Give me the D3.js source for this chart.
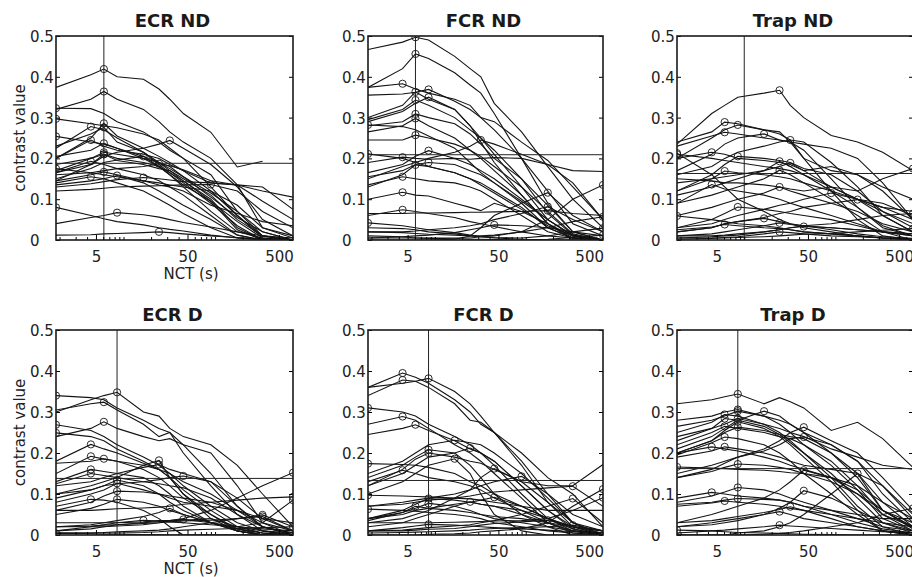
<!DOCTYPE html>
<html>
<head>
<meta charset="utf-8">
<script src="https://cdn.jsdelivr.net/npm/d3@7"></script>
<style>
  body { margin: 0; background: #fff; }
  svg { display: block; font-family: "DejaVu Sans", sans-serif; }
</style>
</head>
<body>
<div id="chart"></div>
<script>
// NCT sample times (s), shared by every curve
var nct = [1.83, 4.4, 6.1, 8.5, 16.5, 24.4, 32, 45, 90, 175, 330, 710];

var titles = ["ECR ND", "FCR ND", "Trap ND", "ECR D", "FCR D", "Trap D"];
var yTicks = [0, 0.1, 0.2, 0.3, 0.4, 0.5];
var xTicks = [5, 50, 500];
var xMinor = [2, 3, 4, 6, 7, 8, 9, 10, 20, 30, 40, 60, 70, 80, 90, 100, 200, 300, 400, 600, 700];

// vertical line (s) and horizontal line (contrast) per panel
var refTime = [6.1, 6.1, 10, 8.5, 8.5, 8.5];
var refContrast = [0.188, 0.209, 0.163, 0.138, 0.133, 0.162];

var ecrND = [
  [0.374,0.405,0.419,0.40,0.394,0.37,0.345,0.31,0.264,0.179,0.193,null],
  [0.32,0.345,0.364,0.345,0.32,0.29,0.265,0.24,0.20,0.135,0.03,0.005],
  [0.323,0.322,0.31,0.29,0.265,0.24,0.22,0.2,0.16,0.07,0.01,0],
  [0.297,0.285,0.28,0.275,0.26,0.245,0.225,0.2,0.13,0.06,0.005,0],
  [0.254,0.24,0.235,0.225,0.2,0.18,0.165,0.145,0.095,0.025,0,0],
  [0.175,0.165,0.16,0.155,0.145,0.14,0.135,0.13,0.12,0.085,0.03,0.01],
  [0.08,0.06,0.052,0.045,0.037,0.03,0.026,0.022,0.012,0.005,0.002,0],
  [0.225,0.278,0.27,0.25,0.215,0.185,0.165,0.14,0.09,0.035,0,0],
  [0.2,0.25,0.286,0.255,0.225,0.205,0.19,0.17,0.12,0.06,0.01,0],
  [0.23,0.26,0.276,0.24,0.215,0.19,0.17,0.145,0.1,0.03,0,0],
  [0.2,0.245,0.23,0.22,0.21,0.2,0.185,0.17,0.14,0.135,0.12,0.105],
  [0.205,0.22,0.237,0.225,0.205,0.18,0.16,0.135,0.095,0.045,0.005,0],
  [0.17,0.2,0.215,0.21,0.2,0.19,0.175,0.155,0.115,0.07,0.02,0],
  [0.145,0.185,0.21,0.195,0.185,0.175,0.17,0.15,0.11,0.05,0.01,0],
  [0.165,0.193,0.185,0.175,0.16,0.145,0.13,0.11,0.06,0.012,0,0],
  [0.14,0.155,0.15,0.14,0.12,0.1,0.085,0.065,0.03,0.005,0,0],
  [0.145,0.16,0.167,0.16,0.145,0.135,0.13,0.12,0.085,0.065,0.045,0.035],
  [0.135,0.145,0.15,0.158,0.14,0.12,0.105,0.085,0.05,0.012,0,0],
  [0.04,0.055,0.06,0.067,0.062,0.056,0.05,0.043,0.032,0.02,0.01,0.005],
  [0.15,0.175,0.19,0.196,0.205,0.19,0.18,0.155,0.105,0.055,0.02,0],
  [0.13,0.138,0.143,0.148,0.153,0.15,0.147,0.143,0.14,0.135,0.095,0.05],
  [0.012,0.013,0.015,0.016,0.018,0.02,0.018,0.015,0.01,0.006,0.003,0],
  [0.16,0.165,0.17,0.175,0.18,0.187,0.182,0.172,0.145,0.135,0.13,0.075],
  [0.165,0.185,0.205,0.215,0.225,0.235,0.244,0.225,0.185,0.13,0.05,0.01],
  [0.12,0.124,0.127,0.13,0.132,0.133,0.134,0.135,0.136,0.12,0.07,0.03],
  [0.185,0.2,0.21,0.2,0.19,0.18,0.16,0.13,0.07,0.02,0.005,0]
];

var fcrND = [
  [0.467,0.485,0.497,0.49,0.45,0.42,0.40,0.335,0.265,0.18,0.10,0.03],
  [0.374,0.42,0.456,0.445,0.41,0.38,0.36,0.31,0.2,0.09,0.02,0],
  [0.374,0.383,0.37,0.36,0.345,0.33,0.3,0.27,0.2,0.12,0.04,0.01],
  [0.3,0.33,0.363,0.345,0.32,0.28,0.25,0.21,0.13,0.05,0.01,0],
  [0.355,0.358,0.362,0.369,0.34,0.32,0.3,0.29,0.24,0.195,0.13,0.05],
  [0.29,0.315,0.335,0.35,0.32,0.28,0.24,0.19,0.11,0.04,0.005,0],
  [0.295,0.32,0.343,0.33,0.3,0.27,0.25,0.22,0.15,0.065,0.012,0],
  [0.28,0.29,0.309,0.3,0.285,0.26,0.235,0.2,0.15,0.085,0.02,0],
  [0.265,0.28,0.298,0.28,0.25,0.22,0.2,0.17,0.11,0.04,0,0],
  [0.282,0.278,0.27,0.255,0.225,0.19,0.165,0.14,0.09,0.03,0.005,0],
  [0.245,0.245,0.257,0.25,0.235,0.22,0.205,0.18,0.13,0.07,0.015,0],
  [0.15,0.18,0.19,0.2,0.215,0.23,0.245,0.235,0.21,0.185,0.14,0.05],
  [0.211,0.2,0.19,0.18,0.165,0.15,0.14,0.12,0.08,0.03,0.005,0],
  [0.165,0.185,0.205,0.219,0.2,0.185,0.17,0.15,0.1,0.05,0.01,0],
  [0.19,0.203,0.2,0.198,0.2,0.198,0.2,0.202,0.2,0.185,0.17,0.168],
  [0.155,0.17,0.185,0.19,0.185,0.17,0.16,0.14,0.095,0.05,0.012,0],
  [0.13,0.16,0.184,0.18,0.165,0.15,0.135,0.115,0.075,0.035,0.01,0],
  [0.135,0.155,0.15,0.145,0.14,0.13,0.12,0.1,0.06,0.02,0.005,0],
  [0.1,0.117,0.11,0.108,0.09,0.08,0.072,0.09,0.07,0.04,0.01,0],
  [0.06,0.074,0.07,0.065,0.055,0.045,0.04,0.033,0.02,0.01,0.005,0],
  [0.042,0.035,0.03,0.025,0.018,0.012,0.008,0.005,0.002,0,0,0],
  [0.005,0.008,0.01,0.012,0.018,0.025,0.03,0.037,0.035,0.03,0.02,0.01],
  [0,0,0,0,0.002,0.01,0.03,0.06,0.09,0.116,0.06,0.02],
  [0.02,0.02,0.022,0.025,0.03,0.035,0.04,0.05,0.065,0.082,0.05,0.02],
  [0.065,0.065,0.066,0.066,0.067,0.068,0.068,0.069,0.07,0.072,0.065,0.06],
  [0.01,0.008,0.005,0.005,0.005,0.005,0.008,0.01,0.02,0.05,0.1,0.135],
  [0.03,0.028,0.025,0.02,0.015,0.01,0.01,0.012,0.02,0.03,0.045,0.057],
  [0.02,0.018,0.016,0.014,0.012,0.01,0.008,0.006,0.005,0.01,0.02,0.029],
  [0.005,0.005,0.005,0.004,0.003,0.002,0.002,0.001,0,0.002,0.006,0.012]
];

var trapND = [
  [0.235,0.31,0.33,0.35,0.36,0.367,0.33,0.3,0.256,0.24,0.215,0.17],
  [0.24,0.265,0.289,0.285,0.27,0.26,0.245,0.2,0.17,0.16,0.12,0.05],
  [0.23,0.255,0.264,0.26,0.25,0.245,0.24,0.22,0.15,0.08,0.03,0.01],
  [0.2,0.25,0.27,0.282,0.27,0.265,0.24,0.2,0.12,0.05,0.01,0],
  [0.17,0.21,0.235,0.25,0.26,0.245,0.24,0.235,0.225,0.2,0.14,0.05],
  [0.16,0.18,0.2,0.215,0.23,0.24,0.245,0.24,0.19,0.13,0.06,0.02],
  [0.213,0.16,0.13,0.1,0.07,0.05,0.04,0.03,0.02,0.01,0.005,0],
  [0.21,0.2,0.195,0.19,0.18,0.175,0.17,0.16,0.13,0.1,0.07,0.04],
  [0.2,0.215,0.21,0.2,0.195,0.19,0.185,0.17,0.18,0.16,0.13,0.1],
  [0.12,0.16,0.185,0.205,0.2,0.195,0.19,0.175,0.16,0.12,0.07,0.03],
  [0.11,0.13,0.14,0.15,0.17,0.193,0.18,0.16,0.12,0.08,0.035,0.01],
  [0.14,0.15,0.155,0.16,0.17,0.18,0.189,0.17,0.13,0.1,0.09,0.06],
  [0.09,0.11,0.12,0.13,0.15,0.171,0.16,0.14,0.1,0.06,0.02,0],
  [0.12,0.15,0.169,0.165,0.16,0.155,0.15,0.14,0.12,0.1,0.08,0.07],
  [0.09,0.136,0.125,0.12,0.11,0.1,0.09,0.08,0.06,0.04,0.02,0.01],
  [0.06,0.08,0.09,0.1,0.115,0.13,0.12,0.11,0.09,0.07,0.04,0.02],
  [0.03,0.04,0.05,0.06,0.075,0.085,0.09,0.1,0.115,0.1,0.08,0.05],
  [0.02,0.03,0.04,0.045,0.055,0.065,0.07,0.08,0.09,0.099,0.06,0.02],
  [0.15,0.145,0.14,0.14,0.135,0.13,0.125,0.12,0.13,0.12,0.15,0.175],
  [0.01,0.01,0.012,0.015,0.02,0.025,0.03,0.035,0.04,0.05,0.06,0.065],
  [0.059,0.05,0.045,0.04,0.035,0.03,0.025,0.02,0.015,0.01,0.005,0],
  [0.03,0.05,0.065,0.081,0.075,0.07,0.065,0.06,0.05,0.035,0.02,0.01],
  [0.02,0.03,0.04,0.045,0.053,0.045,0.04,0.035,0.025,0.015,0.008,0.004],
  [0.025,0.032,0.038,0.035,0.03,0.028,0.025,0.02,0.015,0.01,0.005,0.002],
  [0.01,0.015,0.02,0.025,0.035,0.042,0.038,0.035,0.03,0.025,0.02,0.015],
  [0.005,0.008,0.01,0.012,0.02,0.025,0.03,0.033,0.03,0.025,0.02,0.015],
  [0.002,0.004,0.006,0.008,0.015,0.02,0.018,0.015,0.01,0.008,0.005,0.003],
  [0.005,0.005,0.005,0.006,0.008,0.01,0.012,0.014,0.016,0.02,0.024,0.028]
];

var ecrD = [
  [0.34,0.335,0.33,0.31,0.28,0.26,0.25,0.22,0.15,0.07,0.02,0],
  [0.3,0.33,0.34,0.348,0.3,0.29,0.26,0.24,0.22,0.17,0.1,0.02],
  [0.305,0.32,0.324,0.305,0.27,0.24,0.25,0.2,0.12,0.05,0.01,0],
  [0.269,0.255,0.24,0.22,0.19,0.17,0.15,0.12,0.07,0.03,0.01,0],
  [0.249,0.24,0.23,0.21,0.18,0.16,0.14,0.1,0.04,0.01,0,0],
  [0.24,0.26,0.276,0.26,0.24,0.23,0.235,0.22,0.2,0.12,0.03,0],
  [0.18,0.221,0.21,0.2,0.175,0.16,0.14,0.11,0.06,0.02,0.005,0],
  [0.15,0.192,0.185,0.18,0.16,0.14,0.12,0.09,0.05,0.015,0,0],
  [0.175,0.18,0.186,0.18,0.17,0.16,0.15,0.13,0.1,0.06,0.02,0.005],
  [0.1,0.12,0.13,0.14,0.17,0.182,0.14,0.1,0.05,0.01,0,0],
  [0.12,0.13,0.14,0.15,0.165,0.172,0.16,0.15,0.13,0.07,0.02,0],
  [0.13,0.16,0.155,0.15,0.14,0.12,0.1,0.07,0.03,0.01,0,0],
  [0.125,0.15,0.145,0.14,0.13,0.125,0.12,0.115,0.09,0.05,0.02,0.005],
  [0.1,0.11,0.12,0.125,0.13,0.135,0.14,0.144,0.13,0.09,0.04,0.01],
  [0.09,0.11,0.12,0.134,0.12,0.1,0.08,0.06,0.03,0.01,0,0],
  [0.08,0.1,0.11,0.126,0.11,0.1,0.09,0.08,0.07,0.06,0.04,0.03],
  [0.06,0.08,0.095,0.107,0.105,0.1,0.095,0.09,0.08,0.06,0.03,0.01],
  [0.05,0.065,0.075,0.087,0.08,0.07,0.06,0.05,0.03,0.015,0.005,0],
  [0.07,0.087,0.085,0.08,0.06,0.04,0.02,0,0,0,0,0],
  [0.02,0.025,0.03,0.035,0.045,0.055,0.065,0.05,0.03,0.015,0.005,0],
  [0.01,0.02,0.025,0.03,0.036,0.034,0.032,0.03,0.025,0.02,0.015,0.01],
  [0.01,0.015,0.02,0.025,0.03,0.033,0.035,0.038,0.03,0.02,0.01,0.005],
  [0.005,0.005,0.006,0.008,0.01,0.012,0.015,0.02,0.03,0.04,0.049,0.02],
  [0.02,0.022,0.024,0.025,0.028,0.03,0.032,0.034,0.036,0.04,0.045,0.01],
  [0.004,0.003,0.002,0.002,0.001,0.001,0,0,0,0,0,0],
  [0.02,0.02,0.02,0.022,0.025,0.03,0.035,0.04,0.06,0.09,0.12,0.152],
  [0.06,0.06,0.062,0.064,0.066,0.068,0.07,0.075,0.08,0.085,0.09,0.093],
  [0.03,0.03,0.03,0.03,0.032,0.035,0.035,0.036,0.04,0.02,0.03,0.085],
  [0.005,0.005,0.005,0.005,0.006,0.008,0.01,0.012,0.014,0.016,0.018,0.02]
];

var fcrD = [
  [0.36,0.395,0.385,0.37,0.33,0.3,0.27,0.25,0.2,0.14,0.1,0.02],
  [0.34,0.378,0.375,0.36,0.32,0.28,0.275,0.25,0.18,0.1,0.03,0],
  [0.36,0.37,0.375,0.382,0.35,0.32,0.29,0.25,0.17,0.08,0.02,0],
  [0.31,0.3,0.29,0.27,0.24,0.22,0.2,0.17,0.1,0.04,0.01,0],
  [0.27,0.289,0.28,0.26,0.22,0.2,0.18,0.15,0.09,0.03,0.005,0],
  [0.245,0.26,0.269,0.255,0.23,0.21,0.2,0.18,0.12,0.06,0.015,0],
  [0.15,0.18,0.2,0.22,0.231,0.225,0.22,0.2,0.15,0.09,0.03,0],
  [0.12,0.15,0.17,0.19,0.2,0.212,0.2,0.18,0.12,0.06,0.02,0],
  [0.14,0.17,0.19,0.208,0.2,0.17,0.14,0.1,0.05,0.02,0,0],
  [0.12,0.16,0.185,0.2,0.19,0.18,0.175,0.16,0.13,0.12,0.12,0.172],
  [0.1,0.13,0.15,0.17,0.186,0.15,0.1,0.05,0.01,0,0,0],
  [0.174,0.172,0.17,0.165,0.15,0.13,0.12,0.1,0.07,0.04,0.02,0.01],
  [0.13,0.158,0.15,0.14,0.13,0.12,0.11,0.09,0.06,0.03,0.01,0],
  [0.03,0.04,0.05,0.06,0.09,0.11,0.14,0.162,0.13,0.08,0.03,0.01],
  [0.07,0.08,0.085,0.09,0.1,0.11,0.12,0.13,0.143,0.1,0.05,0.02],
  [0.07,0.075,0.08,0.085,0.09,0.095,0.1,0.105,0.11,0.115,0.119,0.07],
  [0.097,0.095,0.094,0.093,0.09,0.088,0.085,0.08,0.07,0.06,0.06,0.06],
  [0.04,0.05,0.06,0.065,0.075,0.08,0.085,0.092,0.07,0.04,0.015,0],
  [0.01,0.012,0.015,0.018,0.022,0.025,0.03,0.035,0.05,0.07,0.089,0.03],
  [0,0,0,0.002,0.003,0.005,0.008,0.01,0.015,0.03,0.07,0.112],
  [0.03,0.03,0.03,0.03,0.031,0.032,0.033,0.034,0.035,0.04,0.06,0.091],
  [0.04,0.06,0.075,0.089,0.085,0.08,0.075,0.07,0.05,0.03,0.01,0],
  [0.035,0.055,0.065,0.077,0.07,0.06,0.05,0.04,0.03,0.02,0.01,0.005],
  [0.04,0.055,0.07,0.065,0.06,0.055,0.05,0.045,0.04,0.03,0.02,0.01],
  [0.02,0.03,0.04,0.05,0.07,0.081,0.075,0.07,0.06,0.04,0.02,0.005],
  [0.063,0.06,0.058,0.055,0.05,0.045,0.04,0.03,0.02,0.01,0.005,0],
  [0.01,0.01,0.012,0.014,0.016,0.02,0.024,0.028,0.032,0.036,0.02,0.01],
  [0.005,0.006,0.007,0.008,0.01,0.012,0.014,0.016,0.018,0.02,0.024,0.01],
  [0.01,0.018,0.022,0.026,0.024,0.022,0.02,0.018,0.015,0.012,0.008,0.005]
];

var trapD = [
  [0.32,0.33,0.337,0.344,0.32,0.335,0.325,0.31,0.255,0.275,0.235,0.165],
  [0.28,0.29,0.3,0.306,0.29,0.28,0.27,0.25,0.22,0.18,0.1,0.03],
  [0.265,0.28,0.29,0.302,0.29,0.27,0.25,0.22,0.17,0.11,0.04,0.01],
  [0.21,0.24,0.26,0.28,0.302,0.29,0.27,0.25,0.2,0.15,0.06,0.02],
  [0.25,0.275,0.294,0.29,0.27,0.25,0.23,0.2,0.14,0.07,0.02,0],
  [0.23,0.26,0.284,0.28,0.265,0.245,0.225,0.2,0.15,0.09,0.03,0.005],
  [0.24,0.26,0.27,0.284,0.27,0.26,0.25,0.24,0.21,0.19,0.17,0.16],
  [0.2,0.23,0.255,0.276,0.26,0.24,0.22,0.19,0.13,0.06,0.01,0],
  [0.22,0.25,0.265,0.26,0.25,0.24,0.235,0.22,0.18,0.12,0.05,0.01],
  [0.2,0.23,0.25,0.263,0.255,0.245,0.24,0.235,0.2,0.14,0.06,0.015],
  [0.14,0.16,0.175,0.19,0.21,0.23,0.25,0.263,0.23,0.2,0.14,0.06],
  [0.195,0.225,0.239,0.235,0.22,0.2,0.18,0.15,0.1,0.05,0.01,0],
  [0.15,0.17,0.18,0.19,0.205,0.22,0.235,0.239,0.22,0.18,0.12,0.04],
  [0.2,0.215,0.21,0.205,0.19,0.18,0.17,0.16,0.14,0.11,0.06,0.02],
  [0.19,0.205,0.215,0.21,0.2,0.19,0.18,0.17,0.16,0.15,0.12,0.05],
  [0.14,0.155,0.165,0.173,0.17,0.165,0.16,0.15,0.13,0.1,0.06,0.03],
  [0.166,0.163,0.162,0.16,0.158,0.155,0.152,0.15,0.14,0.12,0.08,0.04],
  [0.03,0.05,0.06,0.07,0.09,0.11,0.13,0.158,0.14,0.1,0.05,0.02],
  [0,0,0,0.005,0.01,0.02,0.03,0.05,0.1,0.15,0.08,0.02],
  [0.08,0.095,0.105,0.116,0.11,0.1,0.09,0.08,0.06,0.04,0.02,0.01],
  [0.09,0.104,0.1,0.095,0.09,0.085,0.08,0.07,0.06,0.05,0.04,0.04],
  [0.02,0.025,0.03,0.035,0.05,0.065,0.08,0.108,0.09,0.06,0.03,0.01],
  [0.07,0.078,0.083,0.08,0.075,0.07,0.065,0.06,0.05,0.04,0.03,0.02],
  [0.075,0.08,0.085,0.089,0.087,0.085,0.08,0.07,0.05,0.03,0.015,0.005],
  [0.03,0.035,0.04,0.045,0.055,0.062,0.069,0.06,0.04,0.02,0.01,0],
  [0.02,0.03,0.035,0.04,0.05,0.057,0.05,0.04,0.03,0.02,0.01,0.005],
  [0.005,0.01,0.012,0.015,0.02,0.024,0.022,0.02,0.016,0.012,0.008,0.005],
  [0.012,0.01,0.008,0.006,0.005,0.004,0.003,0.002,0.001,0,0,0],
  [0,0,0,0,0.002,0.004,0.006,0.01,0.02,0.03,0.05,0.065]
];

var panelData = [ecrND, fcrND, trapND, ecrD, fcrD, trapD];

// panel geometry in the 912x577 page
var colLeft = [56, 368, 677];
var colWidth = [237, 235, 236];
var rowTop = [36, 330];
var rowHeight = [204, 205];

var svg = d3.select("#chart").append("svg")
  .attr("width", 912)
  .attr("height", 577);

panelData.forEach(function(series, k) {
  var col = k % 3, row = Math.floor(k / 3);
  var w = colWidth[col], h = rowHeight[row];

  var g = svg.append("g")
    .attr("transform", `translate(${colLeft[col]}, ${rowTop[row]})`);

  var x = d3.scaleLog()
    .domain([nct[0], nct[nct.length - 1]])
    .range([0, w]);
  var y = d3.scaleLinear()
    .domain([0, 0.5])
    .range([h, 0]);

  g.append("clipPath").attr("id", "clip" + k)
    .append("rect").attr("width", w).attr("height", h);

  var plot = g.append("g").attr("clip-path", `url(#clip${k})`);

  var line = d3.line()
    .defined(d => d != null)
    .x((d, i) => x(nct[i]))
    .y(d => y(d));

  plot.selectAll("path.curve")
    .data(series)
    .enter()
    .append("path")
    .attr("class", "curve")
    .attr("d", line)
    .attr("fill", "none")
    .attr("stroke", "#141414")
    .attr("stroke-width", 1.1);

  // reference lines
  plot.append("line")
    .attr("x1", x(refTime[k])).attr("x2", x(refTime[k]))
    .attr("y1", 0).attr("y2", h)
    .attr("stroke", "#222").attr("stroke-width", 1);
  plot.append("line")
    .attr("x1", 0).attr("x2", w)
    .attr("y1", y(refContrast[k])).attr("y2", y(refContrast[k]))
    .attr("stroke", "#222").attr("stroke-width", 1);

  // circle at each curve's peak
  plot.selectAll("circle")
    .data(series)
    .enter()
    .append("circle")
    .attr("cx", d => x(nct[d3.maxIndex(d)]))
    .attr("cy", d => y(d3.max(d)))
    .attr("r", 3.6)
    .attr("fill", "none")
    .attr("stroke", "#141414")
    .attr("stroke-width", 0.9);

  // axes
  var yFmt = d => d === 0 ? "0" : d3.format(".1f")(d);
  g.append("g")
    .call(d3.axisLeft(y).tickValues(yTicks).tickSize(-4).tickFormat(yFmt))
    .call(a => {
      a.attr("font-family", null).attr("font-size", 15);
      a.select(".domain").remove();
      a.selectAll("text").attr("text-anchor", "start").attr("x", -26).attr("dy", "0.36em").attr("fill", "#222");
    });

  g.append("g")
    .attr("transform", `translate(${w}, 0)`)
    .call(d3.axisRight(y).tickValues(yTicks).tickSize(-4).tickFormat(""))
    .call(a => a.select(".domain").remove());

  g.append("g")
    .attr("transform", `translate(0, ${h})`)
    .call(d3.axisBottom(x).tickValues(xMinor).tickSize(-3).tickFormat(""))
    .call(a => a.select(".domain").remove());

  g.append("g")
    .attr("transform", `translate(0, ${h})`)
    .call(d3.axisBottom(x).tickValues(xTicks).tickSize(-5).tickFormat(d3.format("d")))
    .call(a => {
      a.attr("font-family", null).attr("font-size", 15);
      a.select(".domain").remove();
      a.selectAll("text").attr("y", 11).attr("fill", "#222");
    });

  // box
  g.append("rect")
    .attr("width", w).attr("height", h)
    .attr("fill", "none")
    .attr("stroke", "#1a1a1a")
    .attr("stroke-width", 1.6);

  // title
  g.append("text")
    .attr("x", w / 2 - 2)
    .attr("y", -9)
    .attr("text-anchor", "middle")
    .attr("font-size", 18)
    .attr("font-weight", "bold")
    .attr("fill", "#1a1a1a")
    .text(titles[k]);

  if (col === 0) {
    g.append("text")
      .attr("transform", `translate(-31, ${h / 2}) rotate(-90)`)
      .attr("text-anchor", "middle")
      .attr("font-size", 15)
      .attr("fill", "#222")
      .text("contrast value");

    g.append("text")
      .attr("x", 135)
      .attr("y", h + 39)
      .attr("text-anchor", "middle")
      .attr("font-size", 15)
      .attr("fill", "#222")
      .text("NCT (s)");
  }
});
</script>
</body>
</html>
